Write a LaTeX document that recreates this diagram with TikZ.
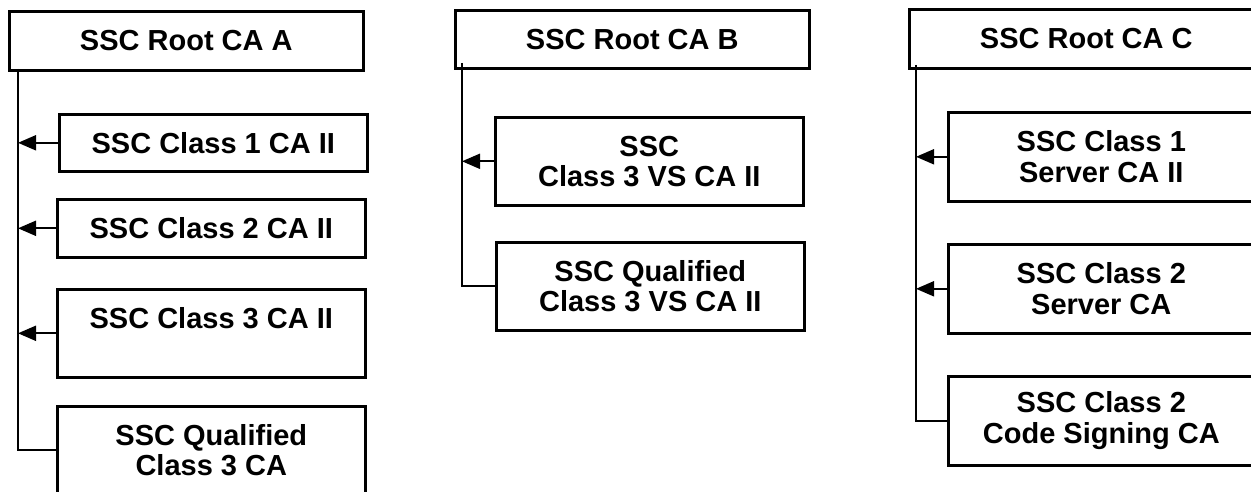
\documentclass[tikz,border=0pt]{standalone}
\usepackage{fontspec}
\setmainfont{Liberation Sans}
\usetikzlibrary{arrows.meta}

\tikzset{
    cabox/.style={draw, line width=2.6pt, inner sep=0pt, align=center, anchor=north west,
        font=\bfseries\fontsize{29}{30.5}\selectfont},
    rootbox/.style={cabox, minimum width=354pt, minimum height=59pt},
    subbox/.style={cabox, minimum width=308pt, minimum height=88pt},
    link/.style={line width=2pt},
    tolink/.style={link, -{Triangle[length=18pt, width=15pt]}}
}

\begin{document}
\begin{tikzpicture}[x=1pt, y=-1pt]

    \useasboundingbox (0,0) rectangle (1251,492);
    \clip (0,0) rectangle (1251,492);

    % root A
    \node[rootbox] (rootA) at (8,10) {SSC Root CA A};
    \node[subbox, minimum height=57pt] (a1) at (58,113) {SSC Class 1 CA II};
    \node[subbox, minimum height=58pt] (a2) at (56,198) {SSC Class 2 CA II};
    \node[subbox] (a3) at (56,288) {SSC Class 3 CA II\\~};
    \node[subbox] (a4) at (56,405) {SSC Qualified\\Class 3 CA};

    \coordinate (trunkA) at (18,69);
    \draw[link] (trunkA) |- (a4.west);
    \foreach \n in {a1,a2,a3} {
        \draw[tolink] (\n.west) -- (\n.west -| trunkA);
    }

    % root B
    \node[rootbox, minimum height=58pt] (rootB) at (454,9) {SSC Root CA B};
    \node[subbox] (b1) at (494,116) {SSC\\Class 3 VS CA II};
    \node[subbox] (b2) at (495,241) {SSC Qualified\\Class 3 VS CA II};

    \coordinate (trunkB) at (462,63);
    \draw[link] (trunkB) |- (b2.west);
    \draw[tolink] (b1.west) -- (b1.west -| trunkB);

    % root C
    \node[rootbox] (rootC) at (908,8) {SSC Root CA C};
    \node[subbox, minimum width=306pt, minimum height=89pt] (c1) at (947,111) {SSC Class 1\\Server CA II};
    \node[subbox, minimum width=306pt, minimum height=89pt] (c2) at (947,243) {SSC Class 2\\Server CA};
    \node[subbox, minimum width=306pt, minimum height=89pt] (c3) at (947,375) {SSC Class 2\\Code Signing CA};

    \coordinate (trunkC) at (916,65);
    \draw[link] (trunkC) |- (c3.west);
    \foreach \n in {c1,c2} {
        \draw[tolink] (\n.west) -- (\n.west -| trunkC);
    }

\end{tikzpicture}
\end{document}
